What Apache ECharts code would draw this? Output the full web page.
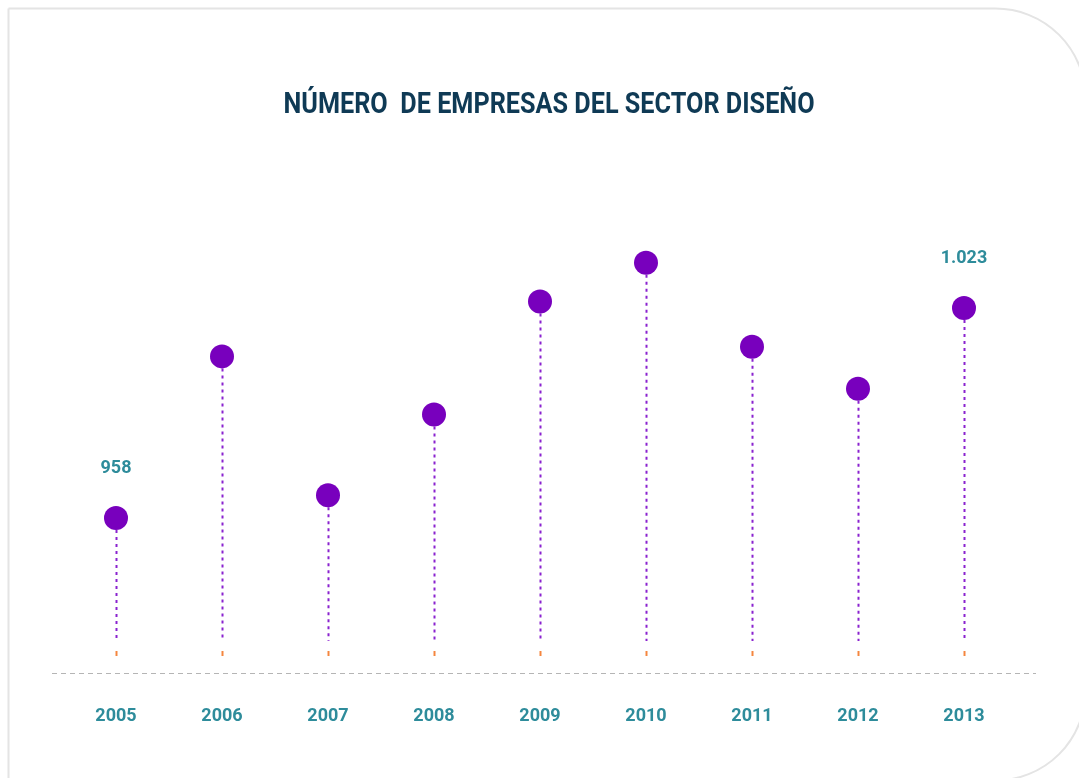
<!DOCTYPE html>
<html>
<head>
<meta charset="utf-8">
<title>Número de empresas del sector diseño</title>
<script src="https://cdn.jsdelivr.net/npm/echarts@6/dist/echarts.min.js"></script>
<style>
  html, body { margin: 0; padding: 0; background: #ffffff; }
  #chart { width: 1079px; height: 778px; }
</style>
</head>
<body>
<div id="chart"></div>
<script>
// Years on the horizontal axis
const years = ['2005', '2006', '2007', '2008', '2009', '2010', '2011', '2012', '2013'];
// Number of design-sector companies per year
const companies = [958, 1008, 965, 990, 1025, 1037, 1011, 998, 1023];
// Years whose value is written above the dot
const labelledYears = ['2005', '2013'];

const titleText = 'NÚMERO  DE EMPRESAS DEL SECTOR DISEÑO';

const PURPLE = '#7800bd';
const STEM = '#8a22cf';
const ORANGE = '#f5863f';
const TEAL = '#2e8c9b';
const NAVY = '#0f3a55';
const Y_MIN = 910;
const Y_MAX = 1040;

// Spanish thousands separator: 1023 -> "1.023"
function fmt(v) {
  return String(v).replace(/\B(?=(\d{3})+(?!\d))/g, '.');
}

const chart = echarts.init(document.getElementById('chart'), null, { renderer: 'canvas' });

const option = {
  backgroundColor: '#ffffff',
  animation: false,
  graphic: [
    {
      // card outline with rounded right corners
      type: 'rect',
      z: -10,
      shape: { x: 8.5, y: 8.5, width: 1077, height: 772, r: [0, 90, 90, 0] },
      style: { fill: '#ffffff', stroke: '#e4e4e4', lineWidth: 2 }
    },
    {
      // dashed baseline
      type: 'line',
      shape: { x1: 52, y1: 673.5, x2: 1036, y2: 673.5 },
      style: { stroke: '#b5b5b5', lineWidth: 1, lineDash: [5, 4] }
    },
    {
      // condensed bold title
      type: 'text',
      x: 549,
      y: 106,
      scaleX: 0.87,
      style: {
        text: titleText,
        fill: NAVY,
        font: 'bold 29px Roboto, sans-serif',
        align: 'center',
        verticalAlign: 'middle'
      }
    }
  ],
  grid: { left: 63, right: 62, top: 253, bottom: 105 },
  xAxis: {
    type: 'category',
    data: years,
    boundaryGap: true,
    axisLine: { show: false },
    axisTick: { show: false },
    splitLine: { show: false },
    axisLabel: {
      margin: 34,
      color: TEAL,
      fontFamily: 'Roboto, sans-serif',
      fontWeight: 'bold',
      fontSize: 18
    }
  },
  yAxis: {
    type: 'value',
    min: Y_MIN,
    max: Y_MAX,
    show: false,
    splitLine: { show: false }
  },
  series: [
    {
      // dotted stems with a small orange foot
      type: 'custom',
      data: companies.map((v, i) => [i, v]),
      renderItem: function (params, api) {
        const top = api.coord([api.value(0), api.value(1)]);
        const base = api.coord([api.value(0), Y_MIN]);
        const x = Math.round(top[0]) + 0.5;
        return {
          type: 'group',
          children: [
            {
              type: 'line',
              shape: { x1: x, y1: top[1] + 12, x2: x, y2: base[1] - 32 },
              style: { stroke: STEM, lineWidth: 2, lineDash: [3, 4] }
            },
            {
              type: 'line',
              shape: { x1: x, y1: base[1] - 22, x2: x, y2: base[1] - 17 },
              style: { stroke: ORANGE, lineWidth: 2 }
            }
          ]
        };
      },
      z: 2
    },
    {
      type: 'scatter',
      symbol: 'circle',
      symbolSize: 24,
      itemStyle: { color: PURPLE, opacity: 1 },
      z: 3,
      data: companies.map((v, i) => ({
        value: [i, v],
        label: { show: labelledYears.includes(years[i]) }
      })),
      label: {
        position: 'top',
        distance: 28,
        formatter: p => fmt(p.value[1]),
        color: TEAL,
        fontFamily: 'Roboto, sans-serif',
        fontWeight: 'bold',
        fontSize: 18
      }
    }
  ]
};

chart.setOption(option);
</script>
</body>
</html>
